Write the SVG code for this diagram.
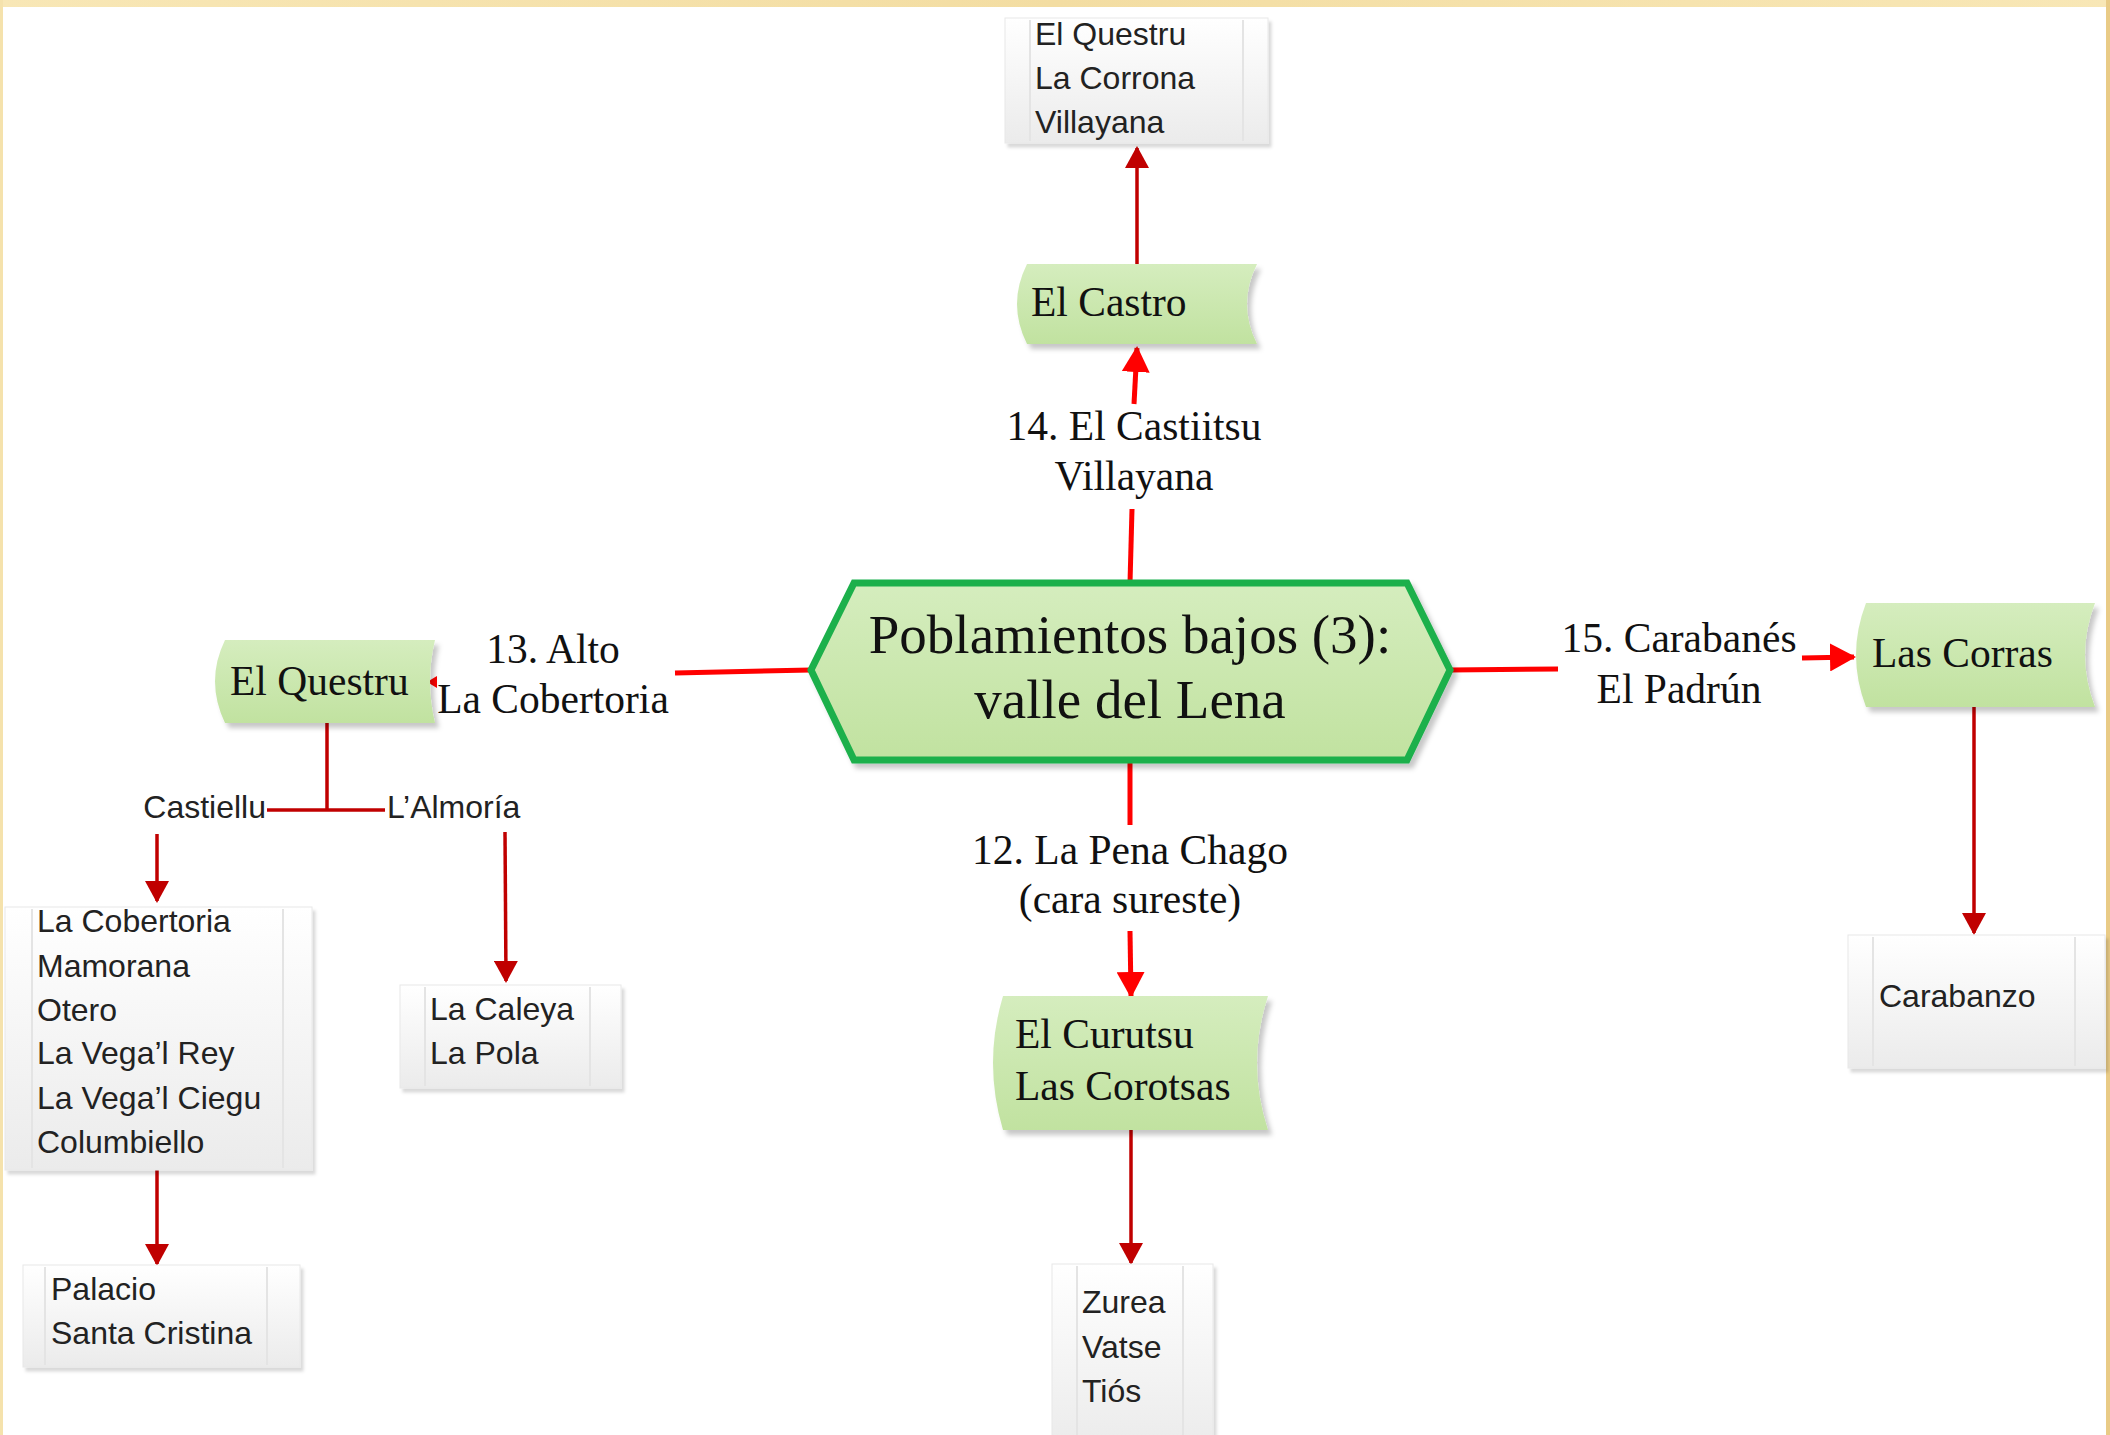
<svg xmlns="http://www.w3.org/2000/svg" width="2110" height="1435" viewBox="0 0 2110 1435">
<defs>
<linearGradient id="green" x1="0" y1="0" x2="0" y2="1"><stop offset="0" stop-color="#D5EDBE"/><stop offset="1" stop-color="#C1E2A0"/></linearGradient>
<linearGradient id="gray" x1="0" y1="0" x2="0" y2="1"><stop offset="0" stop-color="#FFFFFF"/><stop offset="1" stop-color="#EBEBEB"/></linearGradient>
<linearGradient id="beige" x1="0" y1="0" x2="1" y2="0"><stop offset="0" stop-color="#F8E7B6"/><stop offset="0.5" stop-color="#F3DDA2"/><stop offset="1" stop-color="#F8E7B6"/></linearGradient>
<filter id="sh" x="-10%" y="-10%" width="130%" height="140%"><feDropShadow dx="4" dy="5" stdDeviation="2.5" flood-color="#000" flood-opacity="0.22"/></filter>
<filter id="sh2" x="-10%" y="-10%" width="130%" height="140%"><feDropShadow dx="3" dy="4" stdDeviation="1.5" flood-color="#000" flood-opacity="0.15"/></filter>
<marker id="ar" markerUnits="userSpaceOnUse" viewBox="0 0 26 28" refX="24" refY="14" markerWidth="26" markerHeight="28" orient="auto"><path d="M0,0 L26,14 L0,28 Z" fill="#FF0000"/></marker>
<marker id="ad" markerUnits="userSpaceOnUse" viewBox="0 0 22 24" refX="20" refY="12" markerWidth="22" markerHeight="24" orient="auto"><path d="M0,0 L22,12 L0,24 Z" fill="#C00000"/></marker>
<style>
.serif{font-family:"Liberation Serif","Times New Roman",serif;fill:#111;}
.lbl{font-size:41.5px;}
.nt{font-size:41.5px;}
.hx{font-size:55px;}
.sans{font-family:"Liberation Sans",Arial,sans-serif;font-size:32px;fill:#222;}
.box{fill:url(#gray);stroke:#E8E8E8;stroke-width:1;filter:url(#sh2);}
.inl{stroke:#E4E4E4;stroke-width:2;}
.gn{fill:url(#green);filter:url(#sh);}
.br{stroke:#FF0000;stroke-width:5;fill:none;}
.dr{stroke:#C00000;stroke-width:3.5;fill:none;}
</style>
</defs>
<rect x="0" y="0" width="2110" height="1435" fill="#FFFFFF"/>
<rect x="0" y="0" width="2110" height="7" fill="url(#beige)"/>
<rect x="0" y="0" width="3" height="1435" fill="#F5E2AC"/>
<rect x="2106" y="0" width="4" height="1435" fill="#E9CB86"/>

<g id="connectors">
<line class="br" x1="1130" y1="583" x2="1132" y2="509"/>
<line class="br" x1="1134" y1="404" x2="1137" y2="348" marker-end="url(#ar)"/>
<line class="dr" x1="1137" y1="264" x2="1137" y2="148" marker-end="url(#ad)"/>
<line class="br" x1="1450" y1="670" x2="1558" y2="669"/>
<line class="br" x1="1802" y1="658" x2="1854" y2="657" marker-end="url(#ar)"/>
<line class="dr" x1="1974" y1="707" x2="1974" y2="933" marker-end="url(#ad)"/>
<line class="br" x1="1130" y1="760" x2="1130" y2="825"/>
<line class="br" x1="1130" y1="931" x2="1131" y2="996" marker-end="url(#ar)"/>
<line class="dr" x1="1131" y1="1130" x2="1131" y2="1263" marker-end="url(#ad)"/>
<line class="br" x1="811" y1="670" x2="675" y2="673"/>
<polygon points="427,682 437,676 437,688" fill="#FF0000"/>
<line class="dr" x1="327" y1="723" x2="327" y2="810"/>
<line class="dr" x1="267" y1="810" x2="385" y2="810"/>
<line class="dr" x1="157" y1="834" x2="157" y2="901" marker-end="url(#ad)"/>
<line class="dr" x1="505" y1="832" x2="506" y2="981" marker-end="url(#ad)"/>
<line class="dr" x1="157" y1="1170" x2="157" y2="1264" marker-end="url(#ad)"/>
<text class="serif lbl" x="1134" y="440" text-anchor="middle">14. El Castiitsu</text>
<text class="serif lbl" x="1134" y="490" text-anchor="middle">Villayana</text>
<text class="serif lbl" x="1679" y="652" text-anchor="middle">15. Carabanés</text>
<text class="serif lbl" x="1679" y="703" text-anchor="middle">El Padrún</text>
<text class="serif lbl" x="1130" y="864" text-anchor="middle">12. La Pena Chago</text>
<text class="serif lbl" x="1130" y="913" text-anchor="middle">(cara sureste)</text>
<text class="serif lbl" x="553" y="663" text-anchor="middle">13. Alto</text>
<text class="serif lbl" x="553" y="713" text-anchor="middle">La Cobertoria</text>
<text class="sans" x="266" y="818" text-anchor="end">Castiellu</text>
<text class="sans" x="387" y="818">L’Almoría</text>
</g>

<g id="center">
<polygon points="811,670 854,583 1407,583 1450,670 1407,760 854,760" fill="url(#green)" stroke="#1DB04B" stroke-width="7" stroke-linejoin="miter" filter="url(#sh)"/>
<text class="serif hx" x="1130" y="653" text-anchor="middle">Poblamientos bajos (3):</text>
<text class="serif hx" x="1130" y="718" text-anchor="middle">valle del Lena</text>
</g>

<g id="el-castro">
<path class="gn" d="M1027,264 L1257,264 Q1237,304 1257,344 L1027,344 Q1007,304 1027,264 Z"/>
<text class="serif nt" x="1031" y="316">El Castro</text>
</g>

<g id="list-top">
<rect class="box" x="1005" y="18" width="263" height="125"/>
<line class="inl" x1="1030" y1="20" x2="1030" y2="141"/>
<line class="inl" x1="1243" y1="20" x2="1243" y2="141"/>
<text class="sans" x="1035" y="45">El Questru</text>
<text class="sans" x="1035" y="89">La Corrona</text>
<text class="sans" x="1035" y="133">Villayana</text>
</g>

<g id="las-corras">
<path class="gn" d="M1866,603 L2095,603 Q2075,655 2095,707 L1866,707 Q1846,655 1866,603 Z"/>
<text class="serif nt" x="1872" y="667">Las Corras</text>
</g>

<g id="carabanzo">
<rect class="box" x="1848" y="935" width="257" height="133"/>
<line class="inl" x1="1873" y1="937" x2="1873" y2="1066"/>
<line class="inl" x1="2075" y1="937" x2="2075" y2="1066"/>
<text class="sans" x="1879" y="1007">Carabanzo</text>
</g>

<g id="el-curutsu">
<path class="gn" d="M1003,996 L1268,996 Q1246,1063 1268,1130 L1003,1130 Q983,1063 1003,996 Z"/>
<text class="serif nt" x="1015" y="1048">El Curutsu</text>
<text class="serif nt" x="1015" y="1100">Las Corotsas</text>
</g>

<g id="zurea">
<rect class="box" x="1052" y="1264" width="161" height="185"/>
<line class="inl" x1="1077" y1="1266" x2="1077" y2="1435"/>
<line class="inl" x1="1183" y1="1266" x2="1183" y2="1435"/>
<text class="sans" x="1082" y="1313">Zurea</text>
<text class="sans" x="1082" y="1358">Vatse</text>
<text class="sans" x="1082" y="1402">Tiós</text>
</g>

<g id="el-questru">
<path class="gn" d="M225,640 L435,640 Q425,681 435,723 L225,723 Q205,681 225,640 Z"/>
<text class="serif nt" x="230" y="695">El Questru</text>
</g>

<g id="list-cobertoria">
<rect class="box" x="5" y="907" width="307" height="263"/>
<line class="inl" x1="32" y1="909" x2="32" y2="1168"/>
<line class="inl" x1="283" y1="909" x2="283" y2="1168"/>
<text class="sans" x="37" y="932">La Cobertoria</text>
<text class="sans" x="37" y="977">Mamorana</text>
<text class="sans" x="37" y="1021">Otero</text>
<text class="sans" x="37" y="1064">La Vega’l Rey</text>
<text class="sans" x="37" y="1109">La Vega’l Ciegu</text>
<text class="sans" x="37" y="1153">Columbiello</text>
</g>

<g id="list-caleya">
<rect class="box" x="400" y="985" width="221" height="103"/>
<line class="inl" x1="425" y1="987" x2="425" y2="1086"/>
<line class="inl" x1="590" y1="987" x2="590" y2="1086"/>
<text class="sans" x="430" y="1020">La Caleya</text>
<text class="sans" x="430" y="1064">La Pola</text>
</g>

<g id="list-palacio">
<rect class="box" x="23" y="1265" width="277" height="102"/>
<line class="inl" x1="45" y1="1267" x2="45" y2="1365"/>
<line class="inl" x1="267" y1="1267" x2="267" y2="1365"/>
<text class="sans" x="51" y="1300">Palacio</text>
<text class="sans" x="51" y="1344">Santa Cristina</text>
</g>
</svg>
